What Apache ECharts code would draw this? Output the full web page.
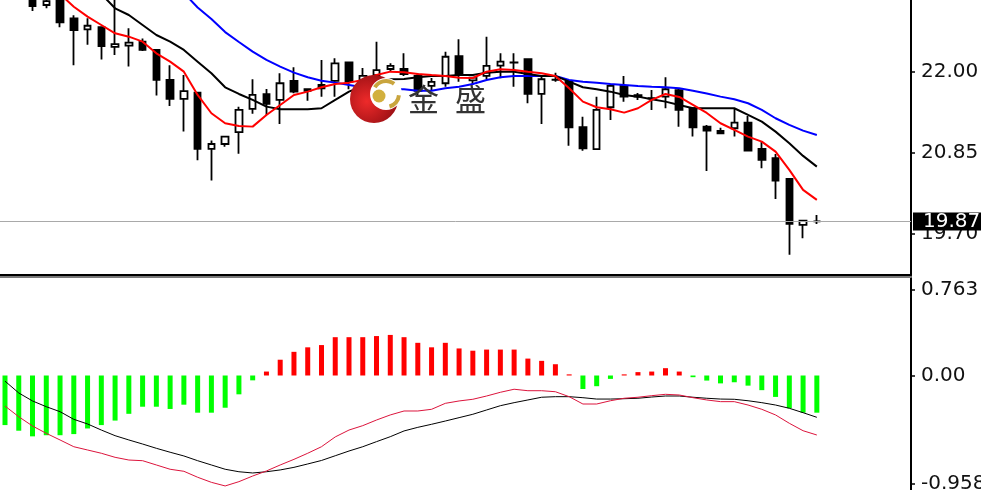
<!DOCTYPE html>
<html><head><meta charset="utf-8">
<script src="https://cdn.jsdelivr.net/npm/echarts@6/dist/echarts.min.js"></script>
<style>html,body{margin:0;padding:0;background:#fff;}#c{width:981px;height:490px;}</style>
</head><body><div id="c"></div>
<script>
// bar labels (no time axis is shown in the reference)
const categories = ['K01','K02','K03','K04','K05','K06','K07','K08','K09','K10','K11','K12','K13','K14','K15','K16','K17','K18','K19','K20','K21','K22','K23','K24','K25','K26','K27','K28','K29','K30','K31','K32','K33','K34','K35','K36','K37','K38','K39','K40','K41','K42','K43','K44','K45','K46','K47','K48','K49','K50','K51','K52','K53','K54','K55','K56','K57','K58','K59','K60'];

const opens  = [23.45,23.30,23.10,22.945,23.05,22.756,22.60,22.63,22.35,22.367,22.424,22.306,21.88,21.61,21.70,20.90,20.97,21.138,21.468,21.68,21.596,21.866,21.724,21.81,21.866,22.131,21.88,21.95,22.036,22.036,21.937,21.795,21.833,22.22,21.873,21.937,22.083,22.125,22.174,21.681,21.88,21.856,21.208,20.896,21.492,21.795,21.665,21.62,21.643,21.734,21.478,21.217,21.156,21.194,21.274,20.90,20.768,20.474,19.82,19.87];
const closes = [23.30,23.12,22.93,23.00,22.70,22.59,22.65,22.36,22.39,22.41,22.306,21.88,21.61,21.72,20.90,20.97,21.075,21.454,21.667,21.54,21.833,21.714,21.748,21.762,22.117,21.856,21.937,22.02,22.079,21.965,21.724,21.852,22.21,21.95,21.913,22.079,22.14,22.13,21.681,21.89,21.885,21.208,20.91,21.454,21.795,21.643,21.643,21.618,21.748,21.454,21.208,21.16,21.123,21.274,20.876,20.744,20.45,19.835,19.882,19.87];
const lows   = [23.20,23.06,22.86,22.90,22.63,22.09,22.38,22.17,22.235,22.07,22.29,21.66,21.51,21.146,20.74,20.45,20.93,20.83,21.40,21.383,21.255,21.69,21.586,21.643,21.643,21.748,21.823,21.88,21.998,21.937,21.667,21.738,21.785,21.856,21.81,21.895,21.904,21.785,21.549,21.255,21.856,20.947,20.876,20.89,21.312,21.572,21.596,21.454,21.478,21.217,21.075,20.588,21.12,21.075,20.862,20.626,20.19,19.395,19.632,19.835];
const highs  = [23.55,23.38,23.15,23.05,23.08,22.80,22.756,22.64,23.04,22.614,22.47,22.31,22.09,21.95,21.70,21.02,21.08,21.50,21.89,21.75,21.975,22.06,21.762,22.164,22.188,22.14,22.05,22.424,22.117,22.259,21.98,21.908,22.282,22.458,21.927,22.495,22.259,22.259,22.188,21.95,21.983,21.86,21.359,21.643,21.81,21.937,21.695,21.738,21.918,21.766,21.48,21.24,21.202,21.478,21.369,21.004,20.829,20.48,19.885,19.963];

const maRed   = [23.61,23.50,23.385,23.243,23.10,22.921,22.779,22.661,22.543,22.495,22.424,22.259,22.14,21.998,21.667,21.407,21.265,21.227,21.217,21.383,21.525,21.667,21.714,21.776,21.823,21.842,21.88,21.95,21.998,21.99,21.965,21.95,21.937,21.913,21.908,21.998,22.032,22.022,21.998,21.975,21.937,21.762,21.572,21.492,21.464,21.416,21.478,21.596,21.681,21.639,21.525,21.411,21.265,21.17,21.075,21.004,20.862,20.602,20.318,20.176];
const maBlack = [24.19,24.05,23.91,23.77,23.61,23.442,23.27,23.101,22.898,22.803,22.661,22.519,22.424,22.306,22.14,21.975,21.776,21.681,21.596,21.501,21.464,21.464,21.464,21.478,21.596,21.714,21.795,21.856,21.89,21.894,21.918,21.937,21.937,21.95,21.95,21.984,21.998,21.998,21.965,21.937,21.937,21.856,21.776,21.748,21.714,21.667,21.643,21.606,21.572,21.525,21.478,21.478,21.478,21.478,21.383,21.288,21.146,20.981,20.801,20.649];
const maBlue  = [25.08,24.96,24.84,24.71,24.58,24.44,24.30,24.15,24.00,23.85,23.68,23.50,23.314,23.115,22.91,22.746,22.56,22.42,22.282,22.164,22.069,21.984,21.918,21.87,21.842,21.809,21.776,21.762,21.748,21.748,21.728,21.728,21.762,21.785,21.823,21.88,21.918,21.937,21.937,21.937,21.937,21.88,21.856,21.842,21.823,21.809,21.795,21.785,21.776,21.762,21.728,21.688,21.643,21.606,21.549,21.454,21.336,21.241,21.16,21.099];

const macdHist = [-0.44,-0.49,-0.54,-0.53,-0.53,-0.52,-0.47,-0.44,-0.40,-0.34,-0.277,-0.277,-0.297,-0.259,-0.33,-0.33,-0.286,-0.167,-0.043,0.035,0.14,0.21,0.25,0.27,0.34,0.34,0.34,0.35,0.36,0.34,0.29,0.25,0.29,0.24,0.22,0.23,0.23,0.23,0.15,0.13,0.10,0.01,-0.12,-0.095,-0.03,0.01,0.03,0.035,0.065,0.035,-0.015,-0.045,-0.07,-0.06,-0.09,-0.13,-0.19,-0.29,-0.33,-0.33];
const macdSlow = [-0.05,-0.155,-0.226,-0.277,-0.321,-0.389,-0.43,-0.484,-0.534,-0.572,-0.608,-0.646,-0.681,-0.714,-0.756,-0.794,-0.832,-0.854,-0.865,-0.854,-0.838,-0.815,-0.785,-0.754,-0.712,-0.67,-0.632,-0.587,-0.543,-0.492,-0.46,-0.433,-0.404,-0.374,-0.344,-0.306,-0.268,-0.241,-0.217,-0.193,-0.188,-0.188,-0.197,-0.209,-0.209,-0.206,-0.202,-0.191,-0.182,-0.182,-0.193,-0.202,-0.209,-0.211,-0.224,-0.241,-0.262,-0.291,-0.33,-0.371];
const macdFast = [-0.271,-0.366,-0.448,-0.513,-0.572,-0.632,-0.661,-0.69,-0.726,-0.75,-0.756,-0.794,-0.832,-0.85,-0.903,-0.948,-0.98,-0.942,-0.892,-0.847,-0.794,-0.744,-0.69,-0.632,-0.545,-0.484,-0.445,-0.395,-0.35,-0.315,-0.315,-0.30,-0.247,-0.226,-0.211,-0.182,-0.149,-0.122,-0.135,-0.135,-0.144,-0.188,-0.253,-0.253,-0.224,-0.202,-0.193,-0.179,-0.167,-0.173,-0.197,-0.217,-0.232,-0.232,-0.262,-0.30,-0.35,-0.424,-0.49,-0.528];

const lastPrice = 19.87;
const priceTicks = [22.00, 20.85, 19.70];
const macdTicks = [0.763, 0.00, -0.958];
const macdTickLabels = ['0.763', '0.00', '-0.958'];

const idx = (arr) => arr.map((v, i) => [i, v]);
const candleData = categories.map((c, i) => [i, opens[i], closes[i], lows[i], highs[i]]);

const FONT = 'DejaVu Sans';
const chart = echarts.init(document.getElementById('c'), null, {renderer: 'canvas'});

function yAxisCommon(gridIndex, min, max, ticks, fmt) {
  return {
    type: 'value', gridIndex, position: 'right', min, max, scale: true,
    axisLine: {show: true, onZero: false, lineStyle: {color: '#000', width: 2}},
    axisTick: {show: true, customValues: ticks, length: 4, lineStyle: {color: '#000', width: 1.5}},
    axisLabel: {show: true, customValues: ticks, formatter: fmt, margin: 10, color: '#111', fontSize: 20, fontFamily: FONT},
    splitLine: {show: false}
  };
}
function xAxisCommon(gridIndex, position, color) {
  return {
    type: 'value', gridIndex, position, min: -0.3634, max: 65.843,
    axisLine: {show: true, onZero: false, lineStyle: {color, width: 2}},
    axisTick: {show: false}, axisLabel: {show: false}, splitLine: {show: false}
  };
}

chart.setOption({
  animation: false,
  backgroundColor: '#fff',
  grid: [
    {left: 0, top: 0, width: 911, height: 275, containLabel: false, outerBoundsMode: 'none'},
    {left: 0, top: 277, width: 911, height: 213, containLabel: false, outerBoundsMode: 'none'}
  ],
  xAxis: [xAxisCommon(0, 'bottom', '#000'), xAxisCommon(1, 'top', '#7a7a7a')],
  yAxis: [
    yAxisCommon(0, 19.109, 23.016, priceTicks, (v) => v.toFixed(2)),
    yAxisCommon(1, -1.016, 0.874, macdTicks, (v) => macdTickLabels[macdTicks.findIndex(t => Math.abs(t - v) < 1e-6)] ?? v.toFixed(2))
  ],
  series: [
    {
      type: 'candlestick', xAxisIndex: 0, yAxisIndex: 0, data: candleData, barWidth: 7,
      itemStyle: {color: '#ffffff', color0: '#000000', borderColor: '#000', borderColor0: '#000', borderColorDoji: '#000', borderWidth: 1.8},
      markLine: {
        silent: true, symbol: 'none', z: 10,
        lineStyle: {color: '#a9a9a9', width: 1, type: 'solid'},
        label: {show: true, position: 'end', distance: 2, formatter: () => lastPrice.toFixed(2),
          backgroundColor: '#000', color: '#fff', fontSize: 20, fontFamily: FONT, lineHeight: 18, padding: [0, 10, 0, 10]},
        data: [{yAxis: lastPrice}]
      }
    },
    {type: 'line', xAxisIndex: 0, yAxisIndex: 0, data: idx(maBlue), showSymbol: false, lineStyle: {color: '#0000ff', width: 2}},
    {type: 'line', xAxisIndex: 0, yAxisIndex: 0, data: idx(maBlack), showSymbol: false, lineStyle: {color: '#000000', width: 2}},
    {type: 'line', xAxisIndex: 0, yAxisIndex: 0, data: idx(maRed), showSymbol: false, lineStyle: {color: '#ff0000', width: 2}},
    {
      type: 'bar', xAxisIndex: 1, yAxisIndex: 1, data: idx(macdHist), barWidth: 5,
      itemStyle: {color: (p) => p.value[1] >= 0 ? '#ff0000' : '#00ff00'}
    },
    {type: 'line', xAxisIndex: 1, yAxisIndex: 1, data: idx(macdSlow), showSymbol: false, lineStyle: {color: '#000000', width: 1}},
    {type: 'line', xAxisIndex: 1, yAxisIndex: 1, data: idx(macdFast), showSymbol: false, lineStyle: {color: '#dc143c', width: 1}}
  ],
  graphic: [
    {type: 'circle', z: 100, shape: {cx: 374, cy: 99, r: 24},
      style: {fill: new echarts.graphic.RadialGradient(0.35, 0.55, 0.75, [{offset: 0, color: '#ee2a2a'}, {offset: 1, color: '#8c0b10'}])}},
    {type: 'circle', z: 101, shape: {cx: 386, cy: 94, r: 16}, style: {fill: '#ffffff'}},
    {type: 'arc', z: 102, shape: {cx: 386, cy: 94, r: 13, startAngle: -2.6, endAngle: -0.9}, style: {stroke: '#c9a53e', lineWidth: 4, fill: null}},
    {type: 'arc', z: 102, shape: {cx: 386, cy: 94, r: 13, startAngle: 0.1, endAngle: 1.3}, style: {stroke: '#c9a53e', lineWidth: 4, fill: null}},
    {type: 'circle', z: 103, shape: {cx: 379, cy: 96, r: 6.5}, style: {fill: '#d2b03e'}},
    {type: 'text', z: 103, x: 408, y: 84, style: {text: '金', fontSize: 31, fontFamily: 'Noto Sans CJK SC', fill: '#333', align: 'left', verticalAlign: 'top'}},
    {type: 'text', z: 103, x: 455, y: 84, style: {text: '盛', fontSize: 31, fontFamily: 'Noto Sans CJK SC', fill: '#333', align: 'left', verticalAlign: 'top'}}
  ]
});
</script></body></html>
